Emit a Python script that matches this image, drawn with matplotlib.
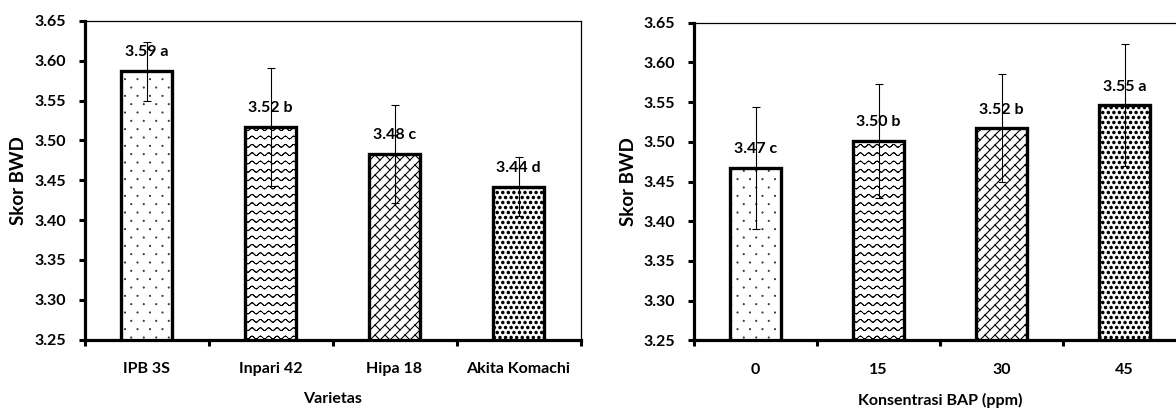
import warnings
import numpy as np
import matplotlib
matplotlib.use('Agg')
import matplotlib.pyplot as plt
import matplotlib.hatch as mhatch
from matplotlib.path import Path

warnings.filterwarnings('ignore')

# ---------------- data ----------------
varieties = ['IPB 3S', 'Inpari 42', 'Hipa 18', 'Akita Komachi']
variety_means = [3.587, 3.517, 3.483, 3.442]
variety_err = [0.037, 0.074, 0.062, 0.037]
variety_letters = ['a', 'b', 'c', 'd']

bap_levels = ['0', '15', '30', '45']
bap_means = [3.467, 3.501, 3.517, 3.546]
bap_err = [0.077, 0.072, 0.068, 0.077]
bap_letters = ['c', 'b', 'b', 'a']

y_ticks = [3.25, 3.30, 3.35, 3.40, 3.45, 3.50, 3.55, 3.60, 3.65]
y_tick_labels = ['3.25', '3.30', '3.35', '3.40', '3.45', '3.50', '3.55', '3.60', '3.65']


# ---------------- custom hatch patterns ----------------
def _segs_to_arrays(segs):
    verts = np.array(segs, dtype=float).reshape(-1, 2)
    codes = np.tile([Path.MOVETO, Path.LINETO], len(segs)).astype(Path.code_type)
    return verts, codes


class _PrecomputedHatch(mhatch.HatchPatternBase):
    char = None

    def __init__(self, hatch, density):
        if hatch and self.char in hatch:
            self._v, self._c = self.build()
            self.num_vertices = len(self._v)
        else:
            self.num_vertices = 0

    def set_vertices_and_codes(self, vertices, codes):
        vertices[:] = self._v
        codes[:] = self._c


class WaveHatch(_PrecomputedHatch):
    char = '~'
    rows = 12
    waves = 12
    amp = 0.014

    def build(self):
        segs = []
        t = np.linspace(0, 1, self.waves * 8 + 1)
        for i in range(self.rows):
            y0 = (i + 0.5) / self.rows
            y = y0 + self.amp * np.sin(2 * np.pi * self.waves * t)
            for j in range(len(t) - 1):
                segs.append([[t[j], y[j]], [t[j + 1], y[j + 1]]])
        return _segs_to_arrays(segs)


class BrickHatch(_PrecomputedHatch):
    char = 'k'
    n = 10
    m = 5

    def build(self):
        segs = []
        n, m = self.n, self.m
        for k in range(-n, n + 1):
            c = k / n
            segs.append([[0.0, c], [1.0, 1.0 + c]])
        for k in range(-n, n):
            c0, c1 = k / n, (k + 1) / n
            for j in range(-1, 2 * m + 2):
                s = (j + 0.5 * (k % 2)) / m
                p0 = ((s - c0) / 2, (s + c0) / 2)
                p1 = ((s - c1) / 2, (s + c1) / 2)
                if all(-0.2 <= v <= 1.2 for v in (*p0, *p1)):
                    segs.append([p0, p1])
        return _segs_to_arrays(segs)


class _DotHatch(_PrecomputedHatch):
    ncols = 8
    nrows = 12
    radius = 0.003

    def build(self):
        circ = Path.unit_circle()
        cv, cc = circ.vertices, circ.codes
        verts, codes = [], []
        for r in range(self.nrows):
            y = (r + 0.5) / self.nrows
            shift = 0.5 / self.ncols if r % 2 else 0.0
            for c in range(-1, self.ncols + 1):
                x = c / self.ncols + shift
                verts.append(cv * self.radius + [x, y])
                codes.append(cc)
        return np.concatenate(verts), np.concatenate(codes).astype(Path.code_type)


class SparseDots(_DotHatch):
    char = ','
    ncols = 8
    nrows = 12
    radius = 0.003


class DenseDots(_DotHatch):
    char = ':'
    ncols = 18
    nrows = 20
    radius = 0.0105


mhatch._hatch_types.extend([WaveHatch, BrickHatch, SparseDots, DenseDots])
hatches = [',', '~', 'k', ':']
hatch_widths = [1.0, 0.65, 0.8, 1.0]

# ---------------- style ----------------
plt.rcParams['font.family'] = ['Lato', 'DejaVu Sans']
plt.rcParams['font.weight'] = 'bold'
plt.rcParams['hatch.linewidth'] = 1.0

fig = plt.figure(figsize=(11.76, 4.12), dpi=100)
ax1 = fig.add_axes([84.5 / 1176, (412 - 339.5) / 412, 496 / 1176, (339.5 - 21) / 412])
ax2 = fig.add_axes([694 / 1176, (412 - 340.3) / 412, 492 / 1176, (340.3 - 22.7) / 412])

FS = 11.5


def draw_panel(ax, cats, means, errs, letters, xlabel):
    x = np.arange(len(cats))
    bars = ax.bar(x, means, width=0.41, color='white', edgecolor='black',
                  linewidth=2.4, zorder=2)
    for b, h, hw in zip(bars, hatches, hatch_widths):
        b.set_hatch(h)
        if hasattr(b, 'set_hatch_linewidth'):
            b.set_hatch_linewidth(hw)
    ax.errorbar(x, means, yerr=errs, fmt='none', ecolor='black', elinewidth=0.8,
                capsize=3, capthick=0.8, zorder=3)
    for xi, m, l in zip(x, means, letters):
        ax.annotate(f'{m:.2f} {l}', (xi, m), xytext=(0, 8.4), textcoords='offset points',
                    ha='center', va='bottom', fontsize=FS, fontweight='bold', zorder=4)
    ax.set_xlim(-0.5, len(cats) - 0.5)
    ax.set_ylim(y_ticks[0], y_ticks[-1])
    ax.set_yticks(y_ticks)
    ax.set_yticklabels(y_tick_labels)
    ax.set_xticks(np.arange(len(cats) + 1) - 0.5)
    ax.set_xticklabels([])
    ax.set_xticks(x, minor=True)
    ax.set_xticklabels(cats, minor=True)
    ax.tick_params(axis='x', which='major', direction='out', length=4, width=2.2,
                   labelbottom=False)
    ax.tick_params(axis='x', which='minor', length=0, pad=16, labelsize=FS)
    ax.tick_params(axis='y', direction='out', length=4, width=2.2, pad=9.4, labelsize=FS)
    for side in ['left', 'bottom']:
        ax.spines[side].set_linewidth(2.3)
    for side in ['top', 'right']:
        ax.spines[side].set_linewidth(0.9)
    ax.set_xlabel(xlabel, fontsize=FS, fontweight='bold', labelpad=12)
    ax.set_ylabel('Skor BWD', fontsize=13.5, fontweight='bold', labelpad=5)


draw_panel(ax1, varieties, variety_means, variety_err, variety_letters, 'Varietas')
draw_panel(ax2, bap_levels, bap_means, bap_err, bap_letters, 'Konsentrasi BAP (ppm)')

fig.savefig('out.png', dpi=100)
